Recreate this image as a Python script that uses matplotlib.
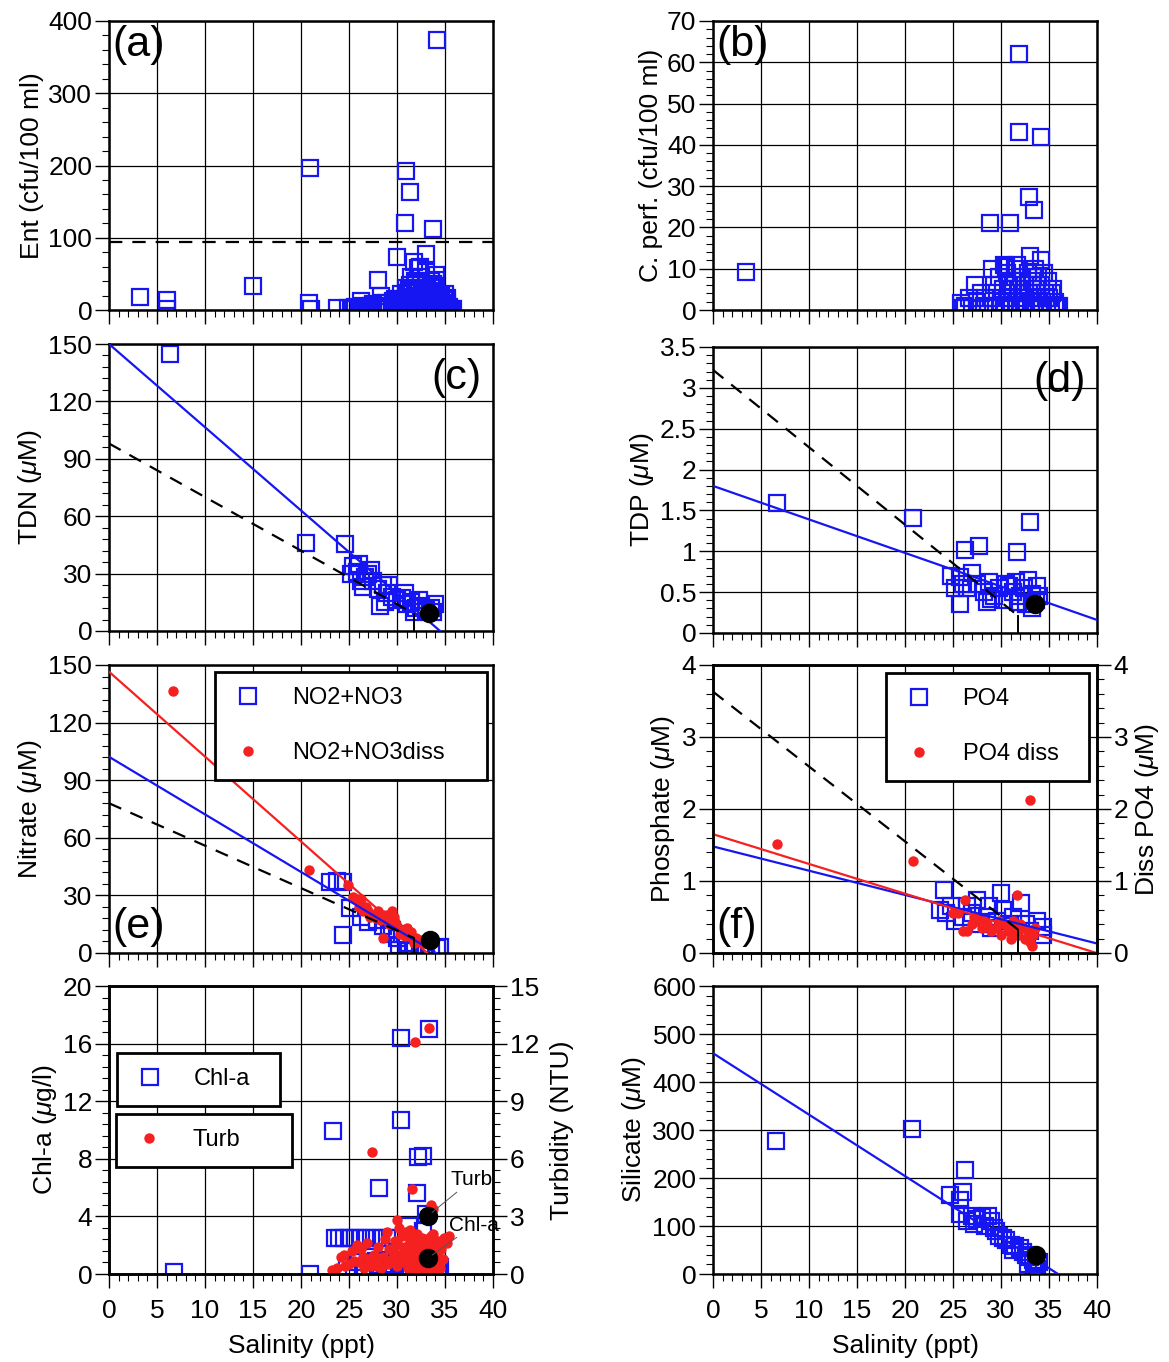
import matplotlib
matplotlib.use("Agg")
import numpy as np
import matplotlib.pyplot as plt
from matplotlib.ticker import MultipleLocator, FuncFormatter

plt.rcParams["font.family"] = ["Liberation Sans", "DejaVu Sans"]
plt.rcParams["mathtext.fontset"] = "custom"
plt.rcParams["mathtext.rm"] = "Liberation Sans"
plt.rcParams["mathtext.it"] = "Liberation Sans:italic"

BLUE = "#1616f2"
RED = "#f52020"

# (a) Enterococcus vs salinity
ent_sal = [3.2, 6.0, 6.0, 15.0, 20.8, 21.0, 20.9, 23.8, 24.9, 26.3, 28.0, 28.3,
           30.0, 30.9, 31.4, 30.8, 33.7, 33.0, 34.2, 31.8, 32.4, 34.1, 34.1,
           25.2, 25.6, 26.0, 26.4, 26.8, 27.1, 27.5, 27.8, 28.2, 28.6, 28.9, 29.2,
           29.5, 29.8, 30.0, 30.2, 30.4, 30.5, 30.7, 30.9, 31.0, 31.1, 31.3, 31.4,
           31.5, 31.6, 31.7, 31.8, 31.9, 32.0, 32.1, 32.2, 32.3, 32.4, 32.5, 32.6,
           32.7, 32.8, 32.9, 33.0, 33.1, 33.2, 33.3, 33.4, 33.5, 33.6, 33.7, 33.8,
           33.9, 34.0, 34.1, 34.2, 34.3, 34.4, 34.5, 34.6, 34.7, 34.8, 34.9, 35.0,
           35.1, 35.2, 35.3, 35.4, 35.6, 35.8, 31.2, 32.0, 33.0, 32.2, 33.5, 31.5,
           30.6, 29.6, 28.4, 27.3, 26.6, 31.0, 31.6, 32.3, 32.9, 33.4, 34.0, 34.6,
           35.2, 30.3, 31.9, 33.1, 34.3, 35.0, 32.6, 33.8]
ent_val = [18, 14, 2, 33, 10, 2, 197, 3, 3, 12, 42, 20,
           73, 192, 163, 120, 112, 77, 374, 66, 60, 48, 42,
           1, 4, 2, 6, 1, 3, 8, 2, 5, 1, 10, 3,
           6, 15, 2, 8, 22, 4, 12, 30, 1, 18, 6, 35,
           10, 25, 3, 14, 40, 7, 20, 2, 30, 11, 45, 5,
           17, 26, 1, 9, 35, 13, 3, 22, 6, 30, 15, 2,
           10, 25, 4, 18, 8, 1, 12, 20, 3, 7, 14, 2,
           5, 9, 1, 4, 2, 1, 28, 38, 52, 58, 40, 45,
           8, 12, 9, 6, 4, 24, 16, 8, 28, 18, 33, 10,
           16, 15, 27, 20, 5, 22, 12, 36]
ent_limit = 94

# (b) Clostridium perfringens vs salinity
cp_sal = [3.4, 31.9, 31.9, 34.2, 32.9, 33.4, 28.9, 30.9, 33.0, 34.2, 30.5, 27.3,
          25.8, 26.3, 26.7, 27.0, 27.5, 27.9, 28.2, 28.6, 29.0, 29.3, 29.5, 29.8,
          30.0, 30.2, 30.4, 30.6, 30.8, 31.0, 31.2, 31.3, 31.5, 31.6, 31.8, 32.0,
          32.1, 32.3, 32.5, 32.6, 32.8, 32.9, 33.1, 33.2, 33.4, 33.5, 33.6, 33.8,
          33.9, 34.0, 34.2, 34.3, 34.5, 34.6, 34.8, 34.9, 35.0, 35.2, 35.4, 35.6,
          35.8, 36.0, 30.3, 31.7, 29.1, 28.3, 26.0, 31.1, 32.4, 33.7, 34.7, 35.3,
          30.7, 32.2, 33.3]
cp_val = [9.3, 61.9, 43, 42, 27.3, 24.2, 21.1, 21.1, 13, 12, 10.5, 6,
          1.7, 1, 3, 0.5, 2, 4, 1, 0.5, 3, 6, 1, 8,
          2, 5, 0.5, 9, 3, 1, 7, 4, 10, 2, 5, 0.5,
          8, 3, 6, 1, 9, 4, 2, 7, 0.5, 10, 5, 3,
          8, 1, 6, 2, 9, 4, 0.5, 7, 3, 1, 5, 2,
          0.5, 1, 11, 11, 10, 3, 0.5, 5, 2, 6, 3, 4,
          6, 4, 8]

# (c) total dissolved nitrogen
tdn_sal = [6.35, 20.5, 24.6, 25.4, 26.0, 25.2, 26.7, 26.5, 28.2, 27.0, 27.5, 28.0,
           28.5, 29.0, 29.5, 30.0, 30.5, 31.0, 31.5, 32.0, 32.5, 33.0, 33.5, 34.0,
           29.2, 30.8, 32.3, 27.3, 26.2, 31.8, 33.8, 28.8, 25.8]
tdn_val = [145, 46, 45.5, 34, 35, 30, 28, 23, 13, 30, 26, 22,
           24, 20, 18, 16, 17, 14, 15, 12, 13, 11, 12, 14,
           24, 20, 16, 32, 26, 10, 10, 15, 31]
tdn_end = (33.3, 9.6)
tdn_fit = (150.0, -4.35)
tdn_mix = (98.0, -2.8)

# (d) total dissolved phosphorus
tdp_sal = [6.67, 20.8, 33.05, 26.2, 27.7, 31.7, 24.8, 25.7, 27.0, 25.7, 26.5, 27.5,
           28.2, 28.8, 29.3, 29.8, 30.3, 30.8, 31.2, 31.6, 32.0, 32.4, 32.8, 33.2,
           33.6, 33.2, 32.6, 31.8, 30.5, 29.0, 28.5, 25.2, 26.0, 34.0, 33.8]
tdp_val = [1.59, 1.41, 1.355, 1.02, 1.06, 0.99, 0.70, 0.69, 0.73, 0.36, 0.55, 0.60,
           0.50, 0.62, 0.45, 0.55, 0.40, 0.58, 0.50, 0.62, 0.45, 0.55, 0.65, 0.48,
           0.40, 0.30, 0.35, 0.38, 0.60, 0.42, 0.38, 0.55, 0.60, 0.45, 0.58]
tdp_end = (33.5, 0.35)
tdp_fit = (1.80, -0.041)
tdp_mix = (3.22, -0.0947)

# (e) nitrate + nitrite, total and dissolved
no3_sal = [23.0, 23.7, 24.4, 24.4, 25.1, 26.3, 27.0, 27.9, 28.5, 29.2, 29.5, 30.0,
           30.5, 31.0, 31.7, 32.4, 32.5, 33.0, 33.5, 34.2, 34.5, 31.2, 32.8, 30.2]
no3_val = [37, 37.5, 37, 9.4, 23.3, 19, 16, 17.2, 14, 10, 12, 8,
           10, 5, 1.6, 0.7, 0.5, 1, 0.5, 2.6, 3, 1, 3, 4]
no3d_sal = [6.7, 20.8, 24.9, 25.4, 25.8, 26.2, 26.5, 27.0, 27.5, 28.0, 28.5, 29.0,
            29.5, 29.8, 30.0, 30.5, 31.0, 31.5, 32.0, 32.5, 33.0, 33.5, 28.5, 29.2,
            30.8, 31.8, 27.8, 32.8, 26.8, 26.0, 27.2, 28.2, 29.7, 30.3, 31.2, 32.2]
no3d_val = [136.6, 43.2, 35.4, 29, 28, 28, 22, 22, 20, 22, 20, 20,
            22, 16, 14, 12, 13, 11, 8, 7, 6, 4, 7.6, 15,
            9, 5, 18, 5, 24, 24, 19, 17, 19, 10, 9, 6]
no3_end = (33.4, 7.0)
no3_fit = (102.2, -3.0)
no3d_fit = (146.5, -4.42)
no3_mix = (78.0, -2.21)

# (f) phosphate, total and dissolved
po4_sal = [24.1, 30.0, 32.1, 27.5, 23.6, 24.3, 24.8, 25.2, 26.0, 27.0, 27.8, 28.5,
           29.0, 29.6, 30.2, 30.8, 31.3, 31.8, 32.6, 33.0, 34.4, 34.4, 33.8, 26.5,
           28.8]
po4_val = [0.875, 0.83, 0.70, 0.73, 0.60, 0.55, 0.65, 0.45, 0.50, 0.55, 0.40, 0.50,
           0.35, 0.45, 0.60, 0.40, 0.50, 0.30, 0.40, 0.30, 0.36, 0.25, 0.45, 0.65,
           0.65]
po4d_sal = [6.67, 20.8, 33.05, 31.7, 26.2, 25.0, 25.5, 26.0, 26.5, 27.0, 27.5, 28.0,
            28.5, 29.0, 29.5, 30.0, 30.3, 30.7, 31.0, 31.4, 31.8, 32.2, 32.5, 32.8,
            33.0, 33.3, 33.5, 32.0, 28.2, 27.2, 29.8, 31.2, 33.2]
po4d_val = [1.51, 1.28, 2.12, 0.80, 0.74, 0.55, 0.55, 0.30, 0.30, 0.40, 0.45, 0.35,
            0.40, 0.30, 0.35, 0.25, 0.40, 0.30, 0.20, 0.30, 0.25, 0.35, 0.20, 0.30,
            0.15, 0.25, 0.35, 0.40, 0.45, 0.50, 0.45, 0.45, 0.10]
po4_fit = (1.48, -0.0337)
po4d_fit = (1.65, -0.0413)
po4_mix = (3.63, -0.104)
mix_end_sal = 31.8

# (g) chlorophyll-a and turbidity
chl_sal = [6.8, 20.9, 23.3, 30.4, 33.3, 30.4, 32.2, 32.7, 28.1, 32.1, 31.3, 23.5,
           24.0, 24.5, 25.0, 25.6, 26.3, 26.9, 27.6, 28.3, 29.0, 29.6, 25.5, 26.0,
           26.5, 27.0, 27.5, 28.0, 28.5, 29.0, 29.5, 30.0, 30.5, 31.0, 31.5, 32.0,
           32.5, 33.0, 33.5, 34.0, 34.5, 31.8, 32.7, 33.0, 24.8, 26.7, 28.8, 30.2,
           31.2, 32.3, 33.7, 34.3, 27.8, 29.3]
chl_val = [0.16, 0.0, 9.9, 16.4, 17.0, 10.7, 8.1, 8.2, 6.0, 5.6, 3.3, 2.5,
           2.5, 2.5, 2.5, 2.5, 2.5, 2.5, 2.5, 2.5, 2.5, 2.5, 0.2, 0.8,
           0.1, 1.2, 0.3, 0.6, 1.0, 0.2, 0.5, 1.5, 0.3, 0.8, 0.1, 2.0,
           0.4, 1.3, 0.2, 0.7, 0.5, 0.0, 3.0, 4.2, 0.5, 0.3, 0.0, 0.1,
           0.4, 0.9, 1.0, 0.2, 0.9, 0.7]
turb_sal = [33.3, 31.9, 27.4, 31.6, 33.5, 30.0, 33.8, 32.8, 23.2, 23.8, 24.2, 24.5,
            25.0, 25.3, 25.8, 26.2, 26.5, 26.9, 27.3, 27.6, 28.0, 28.3, 28.7, 29.0,
            29.2, 29.5, 29.8, 30.0, 30.3, 30.5, 30.8, 31.0, 31.2, 31.5, 31.7, 31.9,
            32.1, 32.3, 32.5, 32.7, 32.9, 33.1, 33.3, 33.5, 33.7, 33.9, 34.1, 34.3,
            34.6, 34.9, 35.2, 35.4, 32.0, 33.0, 31.4, 30.6, 28.0, 26.0,
            30.1, 30.4, 30.9, 31.1, 31.3, 31.6, 31.8, 32.2, 32.4, 32.6, 32.8, 33.2,
            33.4, 33.6, 33.8, 34.0, 34.2, 34.4, 34.8, 30.2, 31.5, 32.9, 33.9, 29.6,
            29.1, 28.5, 27.8, 27.0, 26.6, 25.5, 24.6, 31.0, 32.5, 33.6, 34.5, 30.7]
turb_val = [12.8, 12.1, 6.37, 4.43, 3.6, 2.8, 3.4, 3.0, 0.2, 0.3, 0.9, 1.0,
            0.5, 1.2, 1.5, 1.3, 0.9, 1.6, 0.4, 1.0, 0.6, 0.3, 1.8, 2.2,
            1.3, 0.8, 1.7, 0.4, 1.0, 2.0, 1.4, 0.7, 1.9, 1.1, 0.3, 1.6,
            2.1, 0.8, 1.4, 0.5, 1.8, 1.2, 0.6, 2.0, 1.0, 1.5, 0.7, 1.7,
            1.3, 1.9, 1.6, 2.0, 0.2, 0.1, 2.3, 0.9, 1.4, 0.6,
            1.5, 0.6, 2.2, 0.3, 1.5, 0.8, 2.0, 1.3, 0.4, 1.9, 0.9, 1.6,
            0.3, 1.2, 2.1, 0.5, 1.1, 0.4, 0.8, 2.4, 1.7, 0.5, 0.2, 1.2,
            0.5, 0.9, 0.4, 0.8, 0.3, 0.7, 0.4, 1.3, 1.0, 0.8, 0.3, 1.1]
chl_end = (33.2, 1.09)
turb_end = (33.2, 3.02)

# (h) silicate
si_sal = [6.56, 20.7, 26.2, 26.0, 24.7, 25.7, 25.7, 27.0, 27.5, 28.0, 28.6, 29.0,
          29.3, 29.8, 30.2, 30.5, 31.0, 31.5, 32.0, 32.3, 32.6, 33.0, 33.3, 33.6,
          33.8, 34.0, 26.5, 27.2, 28.3, 29.5, 31.2, 32.8, 33.4]
si_val = [277, 303, 217, 171, 164, 155, 125, 120, 115, 118, 120, 110,
          95, 80, 75, 70, 60, 58, 55, 45, 40, 35, 30, 20,
          10, 25, 110, 105, 100, 90, 50, 20, 5]
si_end = (33.6, 40)
si_fit = (460.0, -12.8)

W, H = 1169, 1362
COL_X = [109, 713]
AX_W = 384
FS = 19

fig = plt.figure(figsize=(W / 100, H / 100), dpi=100)


def add_panel(col, top, bottom):
    return fig.add_axes([COL_X[col] / W, 1 - bottom / H, AX_W / W, (bottom - top) / H])


def style_y(ax, ymax, major, minor):
    ax.set_ylim(0, ymax)
    ax.yaxis.set_major_locator(MultipleLocator(major))
    ax.yaxis.set_minor_locator(MultipleLocator(minor))
    ax.yaxis.set_major_formatter(FuncFormatter(lambda v, p: f"{v:g}"))
    ax.tick_params(which="major", direction="out", length=10, width=1.0,
                   labelsize=FS, pad=2)
    ax.tick_params(which="minor", direction="out", length=5, width=0.8)
    for s in ax.spines.values():
        s.set_linewidth(1.8)


def setup(ax, ymax, major, minor, ylabel, bottom_row=False):
    ax.set_xlim(0, 40)
    ax.xaxis.set_major_locator(MultipleLocator(5))
    ax.xaxis.set_minor_locator(MultipleLocator(1))
    style_y(ax, ymax, major, minor)
    ax.grid(True, which="major", color="black", lw=0.9)
    ax.set_axisbelow(True)
    ax.tick_params(axis="x", which="major", labelbottom=bottom_row, pad=8)
    ax.set_ylabel(ylabel, fontsize=FS, labelpad=3)
    if bottom_row:
        ax.set_xlabel("Salinity (ppt)", fontsize=FS, labelpad=8)


def squares(ax, x, y, label=None):
    return ax.plot(x, y, ls="none", marker="s", ms=11, mfc="none", mec=BLUE,
                   mew=1.6, label=label)[0]


def dots(ax, x, y, label=None, **kw):
    return ax.plot(x, y, ls="none", marker="o", ms=7.5, color=RED, mec="none",
                   label=label, **kw)[0]


def endmember(ax, pt, **kw):
    ax.plot([pt[0]], [pt[1]], ls="none", marker="o", ms=13, color="black",
            zorder=6, **kw)


def fit_line(ax, coef, color):
    xs = np.array([0, 40])
    ax.plot(xs, coef[0] + coef[1] * xs, color=color, lw=1.6, zorder=3)


def mix_line(ax, coef):
    xs = np.array([0, mix_end_sal])
    ys = coef[0] + coef[1] * xs
    ax.plot(xs, ys, color="black", lw=1.6, ls=(0, (6, 4.5)), zorder=3)
    ax.plot([mix_end_sal, mix_end_sal], [ys[1], 0], color="black", lw=1.4, zorder=3)


def tag(ax, text, x, y, ha="left", va="top"):
    ax.text(x, y, text, transform=ax.transAxes, fontsize=31, ha=ha, va=va, zorder=7)


def boxed_legend(ax, handles, x0, top, width, spacing=1.4):
    leg = ax.legend(handles=handles, loc="upper left",
                    bbox_to_anchor=(x0, top, width, 0), mode="expand",
                    fontsize=17, frameon=True, fancybox=False, framealpha=1,
                    borderpad=0.65, labelspacing=spacing, handlelength=1.5,
                    handletextpad=1.1, borderaxespad=0)
    leg.get_frame().set_edgecolor("black")
    leg.get_frame().set_linewidth(2)
    leg.set_zorder(10)
    return leg


# (a)
ax = add_panel(0, 21, 310)
setup(ax, 400, 100, 20, "Ent (cfu/100 ml)")
squares(ax, ent_sal, ent_val)
ax.axhline(ent_limit, color="black", lw=1.6, ls=(0, (6, 4.5)), zorder=3)
tag(ax, "(a)", 0.01, 0.985)

# (b)
ax = add_panel(1, 21, 310)
setup(ax, 70, 10, 2, "C. perf. (cfu/100 ml)")
squares(ax, cp_sal, cp_val)
tag(ax, "(b)", 0.01, 0.985)

# (c)
ax = add_panel(0, 344, 631)
setup(ax, 150, 30, 6, r"TDN ($\mu$M)")
fit_line(ax, tdn_fit, BLUE)
mix_line(ax, tdn_mix)
squares(ax, tdn_sal, tdn_val)
endmember(ax, tdn_end)
tag(ax, "(c)", 0.97, 0.95, ha="right")

# (d)
ax = add_panel(1, 347, 633)
setup(ax, 3.5, 0.5, 0.1, r"TDP ($\mu$M)")
fit_line(ax, tdp_fit, BLUE)
mix_line(ax, tdp_mix)
squares(ax, tdp_sal, tdp_val)
endmember(ax, tdp_end)
tag(ax, "(d)", 0.97, 0.95, ha="right")

# (e)
ax = add_panel(0, 665, 953)
setup(ax, 150, 30, 6, r"Nitrate ($\mu$M)")
fit_line(ax, no3d_fit, RED)
fit_line(ax, no3_fit, BLUE)
mix_line(ax, no3_mix)
h1 = squares(ax, no3_sal, no3_val, "NO2+NO3")
h2 = dots(ax, no3d_sal, no3d_val, "NO2+NO3diss")
endmember(ax, no3_end)
boxed_legend(ax, [h1, h2], 0.276, 0.976, 0.708)
tag(ax, "(e)", 0.01, 0.02, va="bottom")

# (f)
ax = add_panel(1, 665, 953)
setup(ax, 4, 1, 0.2, r"Phosphate ($\mu$M)")
fit_line(ax, po4_fit, BLUE)
fit_line(ax, po4d_fit, RED)
mix_line(ax, po4_mix)
h1 = squares(ax, po4_sal, po4_val, "PO4")
h2 = dots(ax, po4d_sal, po4d_val, "PO4 diss")
boxed_legend(ax, [h1, h2], 0.45, 0.972, 0.529)
tag(ax, "(f)", 0.01, 0.02, va="bottom")
axr = ax.twinx()
style_y(axr, 4, 1, 0.2)
axr.set_ylabel(r"Diss PO4 ($\mu$M)", fontsize=FS, labelpad=3)

# (g)
ax = add_panel(0, 986, 1274)
setup(ax, 20, 4, 0.8, r"Chl-a ($\mu$g/l)", bottom_row=True)
h1 = squares(ax, chl_sal, chl_val, "Chl-a")
boxed_legend(ax, [h1], 0.021, 0.767, 0.424)
axr = ax.twinx()
style_y(axr, 15, 3, 0.6)
axr.set_ylabel("Turbidity (NTU)", fontsize=FS, labelpad=8)
h2 = dots(axr, turb_sal, turb_val, "Turb")
boxed_legend(axr, [h2], 0.018, 0.556, 0.458)
endmember(axr, turb_end)
endmember(axr, chl_end, transform=ax.transData)
axr.annotate("Turb", xy=turb_end, xytext=(35.6, 4.9), fontsize=15,
             va="center", ha="left", zorder=8,
             arrowprops=dict(arrowstyle="-", color="#555555", lw=0.7,
                             shrinkA=0, shrinkB=4))
axr.annotate("Chl-a", xy=chl_end, xycoords=ax.transData,
             xytext=(35.4, 3.4), textcoords=ax.transData, fontsize=15,
             va="center", ha="left", zorder=8,
             arrowprops=dict(arrowstyle="-", color="#555555", lw=0.7,
                             shrinkA=0, shrinkB=4))

# (h)
ax = add_panel(1, 986, 1274)
setup(ax, 600, 100, 20, r"Silicate ($\mu$M)", bottom_row=True)
fit_line(ax, si_fit, BLUE)
squares(ax, si_sal, si_val)
endmember(ax, si_end)

fig.savefig("out.png", dpi=100)
